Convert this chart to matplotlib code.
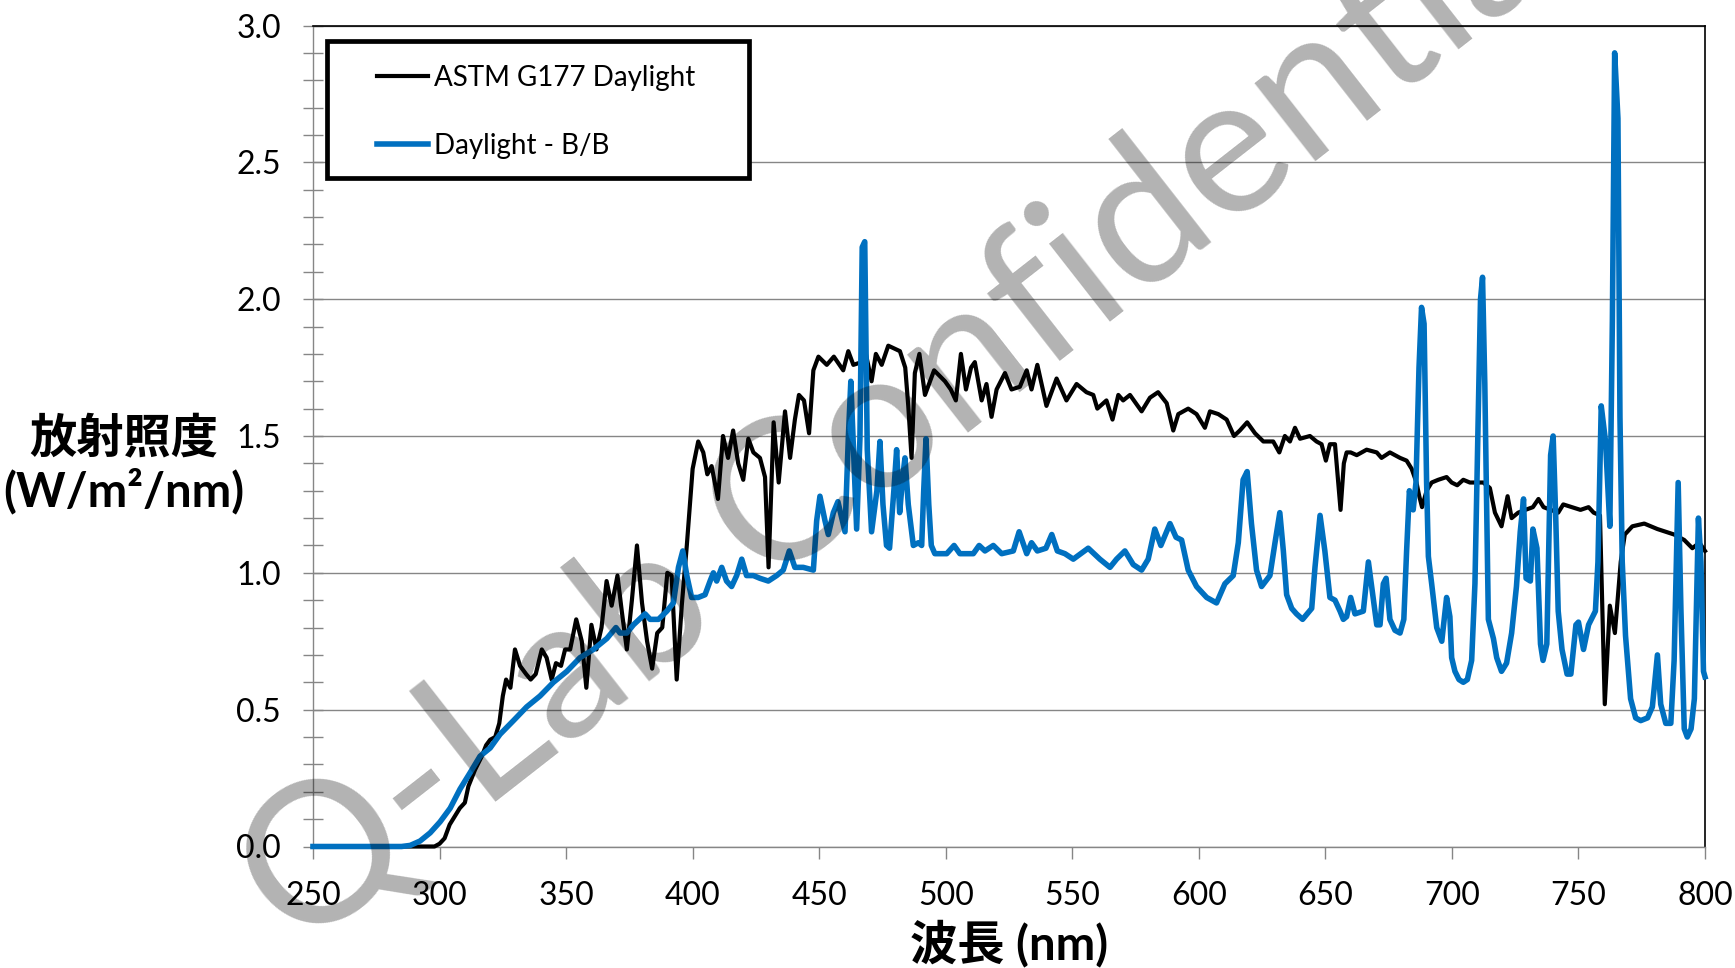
import matplotlib
matplotlib.use("Agg")
import matplotlib.pyplot as plt
from matplotlib.patches import Rectangle
from matplotlib.ticker import MultipleLocator, FormatStrFormatter

plt.rcParams['font.family'] = ['Lato', 'DejaVu Sans']

# --- ASTM G177 Daylight ---
astm_nm = [250, 296, 298, 300, 302, 304, 306, 308, 310, 311.4, 314, 316.7, 318.4, 320, 322,
           323.6, 325, 326.3, 328, 329.8, 331.8, 334.2, 336, 338, 340.4, 342.3, 344.3, 346,
           348, 349.6, 351.6, 354, 356.2, 358, 360, 362, 364, 366, 368, 370.3, 372, 374, 376,
           378, 380, 382, 384, 386, 388, 390, 391.7, 393.7, 395.7, 397.7, 400, 402.2, 404.2,
           405.8, 407.5, 410, 412, 414, 416, 418, 420, 422, 424, 426.6, 428.6, 430, 432, 434,
           436.5, 438.5, 440.4, 442, 444, 446, 447.7, 449.7, 453, 455.8, 459.5, 461.5, 463.5,
           466.8, 468, 470.7, 472.4, 474.7, 477.3, 481.9, 484, 485.2, 486.5, 487.8, 489.6,
           491.8, 495.4, 499.7, 502, 504, 506, 508, 510, 511.5, 514.2, 516.1, 518.1, 520.1,
           523.4, 526, 529.3, 532, 533.9, 536.2, 539.8, 543.8, 547.7, 551.7, 555.6, 558.3,
           559.9, 563.5, 565.9, 568.2, 570.1, 572.8, 577.4, 580.7, 583.9, 587.3, 589.9, 591.9,
           595.8, 599.1, 602.4, 604.4, 607.7, 611, 613.9, 616.2, 619.1, 622.2, 625.5, 629.4,
           631.8, 634, 636, 638, 640, 643.9, 646.5, 648.5, 650.2, 651.8, 653.8, 655.1, 656,
           657.3, 658.4, 660, 662.4, 666.3, 670.3, 672.2, 675.5, 679.5, 682.1, 684.1, 686,
           687.1, 688.2, 690, 692, 694.6, 697.9, 699.9, 702.1, 704.5, 707.1, 709.8, 712.4,
           715, 717, 719.6, 722, 723.6, 726.2, 729, 732, 734.2, 736.2, 742, 744, 750.8, 754,
           756, 758.5, 760.4, 762.4, 764.4, 766.7, 768.3, 771.3, 776, 781.2, 784.5, 787.8,
           791.8, 795, 797.8, 800]
astm_val = [0, 0, 0, 0.01, 0.03, 0.08, 0.11, 0.14, 0.16, 0.22, 0.28, 0.33, 0.37, 0.39, 0.40,
            0.45, 0.55, 0.61, 0.58, 0.72, 0.66, 0.63, 0.61, 0.63, 0.72, 0.69, 0.61, 0.67,
            0.66, 0.72, 0.72, 0.83, 0.75, 0.58, 0.81, 0.72, 0.80, 0.97, 0.88, 0.99, 0.86, 0.72,
            0.90, 1.10, 0.89, 0.75, 0.65, 0.78, 0.80, 1.00, 0.99, 0.61, 0.88, 1.10, 1.38, 1.48,
            1.44, 1.36, 1.39, 1.27, 1.50, 1.42, 1.52, 1.40, 1.34, 1.49, 1.44, 1.42, 1.35, 1.02,
            1.55, 1.33, 1.59, 1.42, 1.56, 1.65, 1.63, 1.51, 1.74, 1.79, 1.76, 1.79, 1.74, 1.81,
            1.76, 1.77, 1.82, 1.70, 1.80, 1.76, 1.83, 1.81, 1.75, 1.61, 1.42, 1.73, 1.80, 1.65,
            1.74, 1.70, 1.67, 1.63, 1.80, 1.67, 1.75, 1.77, 1.63, 1.69, 1.57, 1.67, 1.73, 1.67,
            1.68, 1.74, 1.67, 1.76, 1.61, 1.71, 1.63, 1.69, 1.66, 1.65, 1.60, 1.63, 1.56, 1.65,
            1.63, 1.65, 1.59, 1.64, 1.66, 1.62, 1.52, 1.58, 1.60, 1.58, 1.53, 1.59, 1.58, 1.56,
            1.50, 1.52, 1.55, 1.51, 1.48, 1.48, 1.44, 1.50, 1.48, 1.53, 1.49, 1.50, 1.48, 1.47,
            1.41, 1.47, 1.47, 1.33, 1.23, 1.40, 1.44, 1.44, 1.43, 1.45, 1.44, 1.42, 1.44, 1.42,
            1.41, 1.38, 1.33, 1.28, 1.24, 1.30, 1.33, 1.34, 1.35, 1.33, 1.32, 1.34, 1.33, 1.33,
            1.33, 1.31, 1.22, 1.17, 1.28, 1.20, 1.22, 1.23, 1.24, 1.27, 1.24, 1.22, 1.25, 1.23,
            1.24, 1.22, 1.21, 0.52, 0.88, 0.78, 1.04, 1.14, 1.17, 1.18, 1.16, 1.15, 1.14, 1.12,
            1.09, 1.11, 1.08]

# --- Daylight - B/B lamp ---
bb_nm = [250, 285, 288.4, 292.3, 296.3, 300.2, 304.2, 308.1, 312.1, 316, 320, 323.9, 329.2,
         334.4, 339.7, 345, 350.3, 355.5, 360.8, 366.1, 369.7, 371.3, 374, 376.6, 381.2, 383.2,
         386.5, 389.8, 392.4, 394.4, 396.1, 397.7, 399.6, 402.2, 404.9, 406.9, 408.2, 409.5,
         411.5, 413.4, 415.4, 417.4, 419.4, 421.3, 424, 426.6, 429.9, 433.2, 435.8, 438.2,
         440.4, 443.7, 447.7, 449, 450.3, 452.3, 453.6, 455.6, 457.4, 460.2, 461.5, 462.5,
         463.7, 464.8, 466.1, 467.0, 468.0, 469.0, 470.7, 472.8, 474.0, 475.2, 476.6, 477.8,
         479.5, 480.6, 481.8, 483.0, 483.9, 485.2, 487.2, 489.2, 490.5, 491.3, 492.2, 493.3,
         494.3, 495.7, 500.4, 503.3, 505.6, 508.2, 510.9, 513.2, 515.5, 518.8, 522.1, 526.7,
         529, 532, 533.9, 536.2, 539.6, 541.9, 544.1, 547.1, 550.4, 556.3, 560.9, 564.9, 567.5,
         570.8, 574.1, 577.4, 580, 582.6, 585, 588.6, 591, 593.2, 595.8, 599.1, 603.1, 607,
         610.3, 613.6, 615.6, 617.5, 619.1, 620.8, 622.8, 624.8, 628.1, 630.1, 632, 633.4,
         634.7, 636.7, 638.6, 641, 644.6, 645.9, 647.9, 649.8, 651.8, 653.8, 655.8, 657.1,
         658.4, 660, 661.7, 665, 667, 669, 670.3, 671.6, 672.9, 674, 675.5, 677.5, 679.5, 681,
         682.1, 683.2, 684.7, 685.8, 687, 688, 689, 690, 690.7, 692, 694, 696, 697.9, 699.2,
         699.9, 701.2, 702.8, 704.5, 706.1, 707.8, 709.1, 710.4, 711.3, 712.1, 713, 714.4,
         716.4, 717.7, 719.6, 721.6, 723.6, 725.5, 727, 728.3, 729.3, 731, 732, 733.6, 735,
         736, 737.5, 739, 740, 741, 742, 743.5, 745.5, 747, 749, 750, 752, 754, 756.7, 757.7,
         759, 760.7, 762.4, 763.4, 764.3, 765.6, 766.4, 767.3, 768.6, 770.6, 772.6, 774.6,
         777.3, 779.2, 781.2, 782.5, 784.5, 786.5, 787.8, 789.4, 790.5, 791.8, 793, 794.5,
         795.8, 797.4, 798.4, 799.4, 800]
bb_val = [0, 0, 0.004, 0.02, 0.05, 0.09, 0.14, 0.21, 0.27, 0.33, 0.36, 0.41, 0.46, 0.51, 0.55,
          0.60, 0.64, 0.69, 0.72, 0.76, 0.80, 0.78, 0.78, 0.81, 0.85, 0.83, 0.83, 0.86, 0.89,
          1.02, 1.08, 0.99, 0.91, 0.91, 0.92, 0.97, 1.00, 0.97, 1.02, 0.97, 0.95, 0.99, 1.05,
          0.99, 0.99, 0.98, 0.97, 0.99, 1.01, 1.08, 1.02, 1.02, 1.01, 1.19, 1.28, 1.19, 1.14,
          1.22, 1.26, 1.15, 1.49, 1.70, 1.42, 1.16, 1.49, 2.19, 2.21, 1.45, 1.15, 1.30, 1.48,
          1.25, 1.10, 1.09, 1.30, 1.45, 1.22, 1.35, 1.42, 1.25, 1.10, 1.11, 1.10, 1.30, 1.49,
          1.25, 1.10, 1.07, 1.07, 1.10, 1.07, 1.07, 1.07, 1.10, 1.08, 1.10, 1.07, 1.08, 1.15,
          1.07, 1.11, 1.08, 1.09, 1.14, 1.08, 1.07, 1.05, 1.09, 1.05, 1.02, 1.05, 1.08, 1.03,
          1.01, 1.05, 1.16, 1.10, 1.18, 1.13, 1.12, 1.01, 0.95, 0.91, 0.89, 0.96, 0.99, 1.11,
          1.34, 1.37, 1.18, 1.01, 0.95, 0.99, 1.11, 1.22, 1.08, 0.92, 0.87, 0.85, 0.83, 0.87,
          1.02, 1.21, 1.08, 0.91, 0.90, 0.86, 0.83, 0.84, 0.91, 0.85, 0.86, 1.04, 0.90, 0.81,
          0.81, 0.96, 0.98, 0.83, 0.79, 0.78, 0.83, 1.08, 1.30, 1.23, 1.33, 1.75, 1.97, 1.91,
          1.33, 1.06, 0.96, 0.80, 0.75, 0.91, 0.84, 0.69, 0.64, 0.61, 0.60, 0.61, 0.68, 0.96,
          1.57, 2.00, 2.08, 1.69, 0.83, 0.76, 0.69, 0.64, 0.67, 0.78, 0.95, 1.15, 1.27, 0.98,
          0.97, 1.16, 1.09, 0.74, 0.68, 0.74, 1.43, 1.50, 1.21, 0.86, 0.72, 0.63, 0.63, 0.81,
          0.82, 0.72, 0.81, 0.86, 1.04, 1.61, 1.48, 1.17, 1.92, 2.90, 2.66, 1.57, 1.04, 0.77,
          0.54, 0.47, 0.46, 0.47, 0.51, 0.70, 0.52, 0.45, 0.45, 0.68, 1.33, 0.86, 0.43, 0.40,
          0.43, 0.54, 1.20, 1.04, 0.64, 0.62]

W, H = 1735, 968
fig = plt.figure(figsize=(W / 100, H / 100), dpi=100)
ax = fig.add_axes([313 / W, 1 - 846.5 / H, (1705 - 313) / W, (846.5 - 25.5) / H])

grid_gray = '#868686'
l1, = ax.plot(astm_nm, astm_val, color='black', lw=3.0, solid_joinstyle='round',
              label='ASTM G177 Daylight', clip_on=False, zorder=3)
l2, = ax.plot(bb_nm, bb_val, color='#0070C0', lw=4.0, solid_joinstyle='round',
              label='Daylight - B/B', clip_on=False, zorder=3)

ax.set_xlim(250, 800)
ax.set_ylim(0, 3)
ax.xaxis.set_major_locator(MultipleLocator(50))
ax.yaxis.set_major_locator(MultipleLocator(0.5))
ax.yaxis.set_minor_locator(MultipleLocator(0.1))
ax.yaxis.set_major_formatter(FormatStrFormatter('%.1f'))
ax.grid(axis='y', which='major', color=grid_gray, lw=1.0, zorder=1)
ax.set_axisbelow(True)

for s in ['left', 'bottom']:
    ax.spines[s].set_color(grid_gray)
    ax.spines[s].set_linewidth(1.0)
for s in ['top', 'right']:
    ax.spines[s].set_color('black')
    ax.spines[s].set_linewidth(1.2)

ax.tick_params(axis='y', which='both', direction='inout', length=14, width=1.0,
               color=grid_gray, labelsize=23, pad=16)
ax.tick_params(axis='x', which='major', direction='out', length=8.5, width=1.0,
               color=grid_gray, labelsize=23, pad=16)

# legend with its own frame
fig.patches.append(Rectangle((327 / W, 1 - 178 / H), 422 / W, 137 / H,
                             transform=fig.transFigure, facecolor='white',
                             edgecolor='black', lw=3.4, zorder=4))
fig.legend(handles=[l1, l2], loc='upper left', bbox_to_anchor=(377 / W, 1 - 65 / H),
           bbox_transform=fig.transFigure, frameon=False, fontsize=20,
           handlelength=1.85, handletextpad=0.2, labelspacing=1.5, borderpad=0,
           borderaxespad=0).set_zorder(5)

cjk = ['Lato', 'Noto Sans CJK JP', 'DejaVu Sans']
fig.text(124 / W, 1 - 465 / H, '放射照度\n(W/m²/nm)', family=cjk, fontsize=34,
         fontweight='bold', ha='center', va='center', multialignment='center',
         linespacing=1.2)
fig.text(1009 / W, 1 - 944 / H, '波長 (nm)', family=cjk, fontsize=34,
         fontweight='bold', ha='center', va='center')

# watermark
fig.text(915 / W, 1 - 404 / H, 'Q-Lab Confidential', fontsize=142, color='black',
         alpha=0.3, rotation=38, rotation_mode='anchor', ha='center', va='center',
         zorder=10)

fig.savefig('out.png', dpi=100)
